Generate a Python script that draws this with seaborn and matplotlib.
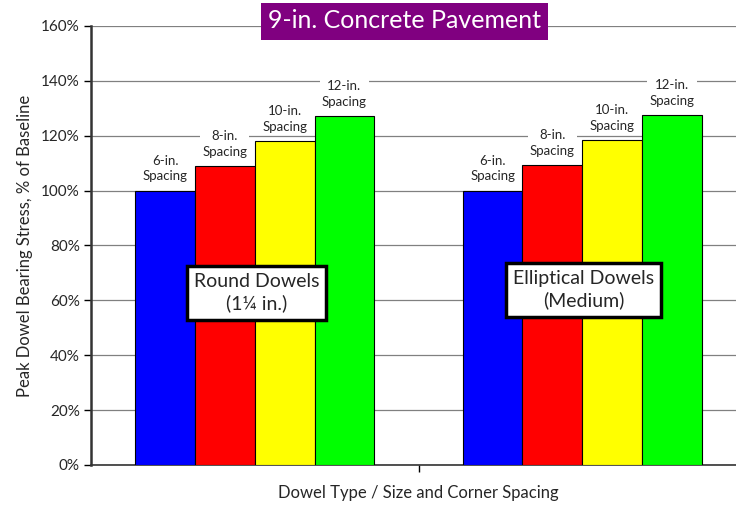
import numpy as np
import pandas as pd
import matplotlib.pyplot as plt
import seaborn as sns

groups = ["Round Dowels\n(1\u00bc in.)", "Elliptical Dowels\n(Medium)"]
spacings = ["6-in.\nSpacing", "8-in.\nSpacing", "10-in.\nSpacing", "12-in.\nSpacing"]
round_vals = [100.0, 109.0, 118.1, 127.2]
elliptical_vals = [100.0, 109.3, 118.4, 127.6]
colors = ["#0000FF", "#FF0000", "#FFFF00", "#00FF00"]

df = pd.DataFrame({
    "group": [groups[0]] * 4 + [groups[1]] * 4,
    "spacing": spacings * 2,
    "stress": round_vals + elliptical_vals,
})

sns.set_theme(style="white")
plt.rcParams["font.family"] = ["Lato", "DejaVu Sans"]

fig = plt.figure(figsize=(7.36, 5.09), dpi=100)
ax = fig.add_axes([91 / 736, 44 / 509, 655 / 736, 439 / 509])

sns.barplot(data=df, x="group", y="stress", hue="spacing", palette=colors,
            width=0.73, edgecolor="black", linewidth=0.8, saturation=1,
            legend=False, ax=ax, zorder=3)

ax.set_ylim(0, 160)
ax.set_xlim(-0.5, 1.5)
ax.set_yticks(np.arange(0, 161, 20))
ax.set_yticklabels([f"{v}%" for v in range(0, 161, 20)], fontsize=11)
ax.yaxis.grid(True, color="#808080", linewidth=0.9, zorder=0)
ax.set_axisbelow(True)
ax.set_xticks([0.5])
ax.set_xticklabels([""])
ax.tick_params(axis="y", direction="out", length=5, width=1, color="black", pad=3, left=True)
ax.tick_params(axis="x", direction="out", length=5, width=1, color="black", bottom=True)
for s in ["top", "right"]:
    ax.spines[s].set_visible(False)
ax.spines["left"].set_color("#333333")
ax.spines["left"].set_linewidth(1.8)
ax.spines["bottom"].set_color("#333333")
ax.spines["bottom"].set_linewidth(1.2)

ax.set_ylabel("Peak Dowel Bearing Stress, % of Baseline", fontsize=12, labelpad=6)
ax.set_xlabel("Dowel Type / Size and Corner Spacing", fontsize=12)
ax.xaxis.set_label_coords(0.5, -20 / 439)

# spacing labels above bars
for cont, lab in zip(ax.containers, spacings):
    for bar in cont:
        cx = bar.get_x() + bar.get_width() / 2
        top = bar.get_height()
        ax.text(cx, top + 3, lab, ha="center", va="bottom", fontsize=9.5,
                linespacing=1.35, zorder=4,
                bbox=dict(facecolor="white", edgecolor="none", pad=1.5))

# group annotation boxes
box_y = [62.7, 63.8]
for i, g in enumerate(groups):
    ax.text(i + 0.005, box_y[i], g, ha="center", va="center", fontsize=14,
            linespacing=1.3, zorder=5,
            bbox=dict(facecolor="white", edgecolor="black", linewidth=2.5, pad=5))

fig.text(404 / 736, 1 - 21 / 509, "9-in. Concrete Pavement", ha="center", va="center",
         fontsize=18, color="white",
         bbox=dict(facecolor="#800080", edgecolor="none", pad=5))

fig.savefig("out.png", dpi=100)
